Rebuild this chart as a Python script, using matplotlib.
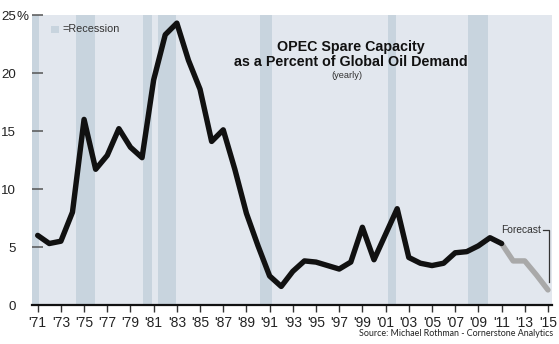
import matplotlib
matplotlib.use("Agg")
import matplotlib.pyplot as plt
import numpy as np

# OPEC spare capacity as a percent of global oil demand (yearly)
years = list(range(1971, 2012))
spare_pct = [6.0, 5.3, 5.5, 8.0, 16.0, 11.7, 12.9, 15.2, 13.6, 12.7,
             19.4, 23.3, 24.3, 21.1, 18.6, 14.1, 15.1, 11.7, 7.9, 5.1,
             2.5, 1.6, 2.9, 3.8, 3.7, 3.4, 3.1, 3.7, 6.7, 3.9,
             6.1, 8.3, 4.1, 3.6, 3.4, 3.6, 4.5, 4.6, 5.1, 5.8, 5.3]

forecast_years = [2011, 2012, 2013, 2014, 2015]
forecast_pct = [5.3, 3.8, 3.8, 2.6, 1.3]

recessions = [(1970.5, 1971.1), (1974.3, 1975.9), (1980.1, 1980.9),
              (1981.4, 1982.9), (1990.2, 1991.2), (2001.2, 2001.9),
              (2008.1, 2009.8)]

ytick_vals = [0, 5, 10, 15, 20, 25]
xtick_years = list(range(1971, 2016, 2))
xtick_labels = ["'" + str(y)[2:] for y in xtick_years]

W, H = 559, 344
fig = plt.figure(figsize=(W / 100, H / 100), dpi=100)
fig.patch.set_facecolor("white")
ax = fig.add_axes([32 / W, (H - 305) / H, (552 - 32) / W, (305 - 15) / H])
ax.set_facecolor("#e2e7ee")

band_color = "#c8d4de"
for a, b in recessions:
    ax.axvspan(a, b, color=band_color, lw=0, zorder=1)

ax.plot(years, spare_pct, color="#111111", lw=3.9, solid_joinstyle="round",
        solid_capstyle="round", zorder=4)
ax.plot(forecast_years, forecast_pct, color="#a9a9a9", lw=3.9,
        solid_joinstyle="round", solid_capstyle="round", zorder=3)

ax.set_xlim(1970.51, 2015.35)
ax.set_ylim(0, 25)

for s in ("top", "right", "left"):
    ax.spines[s].set_visible(False)
ax.spines["bottom"].set_color("#111111")
ax.spines["bottom"].set_linewidth(1.6)
ax.spines["bottom"].set_zorder(5)

ax.set_yticks(ytick_vals)
ax.set_yticklabels([str(v) for v in ytick_vals])
ax.tick_params(axis="y", direction="in", length=8, width=1.1, color="#555555",
               pad=11.5, labelsize=9.6, labelcolor="#222222")
ax.set_xticks(xtick_years)
ax.set_xticklabels(xtick_labels)
ax.tick_params(axis="x", direction="out", length=5, width=1.0, color="#333333",
               pad=3, labelsize=10, labelcolor="#222222")
for lab in ax.get_xticklabels() + ax.get_yticklabels():
    lab.set_fontfamily("Liberation Sans")

# percent sign after the top tick value
ax.annotate("%", xy=(0, 25), xycoords=("axes fraction", "data"),
            xytext=(-11.5, 0), textcoords="offset points",
            ha="left", va="center_baseline", fontsize=9.6, color="#222222",
            family="Liberation Sans", annotation_clip=False)

# legend swatch
fig.patches.append(plt.Rectangle((51 / W, (H - 33) / H), 7.5 / W, 6.5 / H,
                                 transform=fig.transFigure,
                                 color=band_color, lw=0))
fig.text(62 / W, (H - 29.5) / H, "=Recession", fontsize=7.8, color="#333333",
         family="Liberation Sans", va="center", ha="left")

# title
fig.text(351 / W, (H - 50.5) / H, "OPEC Spare Capacity", fontsize=10.3,
         fontweight="bold", family="Liberation Sans", ha="center",
         va="baseline", color="#111111")
fig.text(351 / W, (H - 66) / H, "as a Percent of Global Oil Demand",
         fontsize=10.3, fontweight="bold", family="Liberation Sans",
         ha="center", va="baseline", color="#111111")
fig.text(347 / W, (H - 78) / H, "(yearly)", fontsize=6.7, family="Liberation Sans",
         ha="center", va="baseline", color="#333333")

# forecast bracket
fig.text(541 / W, (H - 230) / H, "Forecast", fontsize=7.4,
         family="Liberation Sans", ha="right", va="center", color="#333333")
fig.add_artist(plt.Line2D([543 / W, 548.5 / W, 548.5 / W],
                          [(H - 230) / H, (H - 230) / H, (H - 282) / H],
                          transform=fig.transFigure, color="#333333", lw=0.9))

# source
fig.text(553 / W, (H - 334) / H,
         "Source: Michael Rothman - Cornerstone Analytics", fontsize=6.4,
         family="Lato", ha="right", va="center", color="#222222")

fig.savefig("out.png", dpi=100, facecolor="white")
